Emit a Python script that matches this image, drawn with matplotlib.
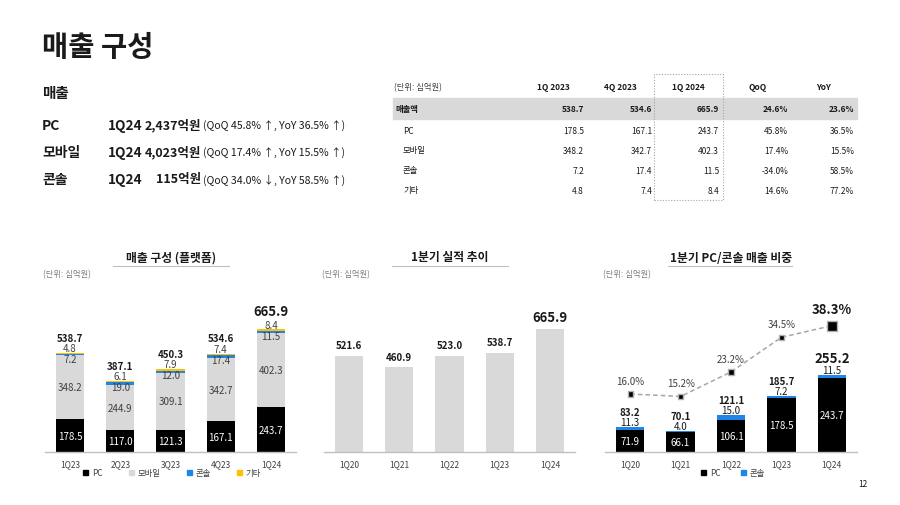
import matplotlib.pyplot as plt
import matplotlib.patches as mpatches
from matplotlib.lines import Line2D
import numpy as np

plt.rcParams['font.family'] = ['Noto Sans CJK KR', 'DejaVu Sans']

W, H = 900, 506
def fx(x): return x / W
def fy(y): return 1 - y / H

TXT      = '#1a1a1a'
TXT_MID  = '#404040'
TXT_LT   = '#7f7f7f'
LINE     = '#bfbfbf'
C_BLACK  = '#000000'
C_GRAY   = '#d9d9d9'
C_BLUE   = '#1f86e8'
C_GOLD   = '#ffc000'

# summary block
sum_labels  = ['PC', '모바일', '콘솔']
sum_amount  = ['2,437억원', '4,023억원', '115억원']
sum_change  = ['(QoQ 45.8% ↑, YoY 36.5% ↑)',
               '(QoQ 17.4% ↑, YoY 15.5% ↑)',
               '(QoQ 34.0% ↓, YoY 58.5% ↑)']

# table
tab_rows    = ['매출액', 'PC', '모바일', '콘솔', '기타']
tab_headers = ['1Q 2023', '4Q 2023', '1Q 2024', 'QoQ', 'YoY']
tab_1q23    = [538.7, 178.5, 348.2, 7.2, 4.8]
tab_4q23    = [534.6, 167.1, 342.7, 17.4, 7.4]
tab_1q24    = [665.9, 243.7, 402.3, 11.5, 8.4]
tab_qoq     = [24.6, 45.8, 17.4, -34.0, 14.6]
tab_yoy     = [23.6, 36.5, 15.5, 58.5, 77.2]

# chart 1: platform mix
quarters   = ['1Q23', '2Q23', '3Q23', '4Q23', '1Q24']
rev_pc     = [178.5, 117.0, 121.3, 167.1, 243.7]
rev_mobile = [348.2, 244.9, 309.1, 342.7, 402.3]
rev_cons   = [7.2, 19.0, 12.0, 17.4, 11.5]
rev_other  = [4.8, 6.1, 7.9, 7.4, 8.4]
rev_total  = [538.7, 387.1, 450.3, 534.6, 665.9]

# chart 2: Q1 trend
q1_years   = ['1Q20', '1Q21', '1Q22', '1Q23', '1Q24']
q1_rev     = [521.6, 460.9, 523.0, 538.7, 665.9]

# chart 3: PC/console share
q1_pc      = [71.9, 66.1, 106.1, 178.5, 243.7]
q1_cons    = [11.3, 4.0, 15.0, 7.2, 11.5]
q1_pccons  = [83.2, 70.1, 121.1, 185.7, 255.2]
q1_share   = [16.0, 15.2, 23.2, 34.5, 38.3]

fig = plt.figure(figsize=(9, 5.06), dpi=100, facecolor='white')

# ---- header + summary
fig.text(fx(42), fy(48), '매출 구성', fontsize=20.5, fontweight='bold', color=TXT,
         ha='left', va='center')
fig.text(fx(42), fy(93), '매출', fontsize=10.5, fontweight='bold', color=TXT,
         ha='left', va='center')
for i, (lab, amt, chg) in enumerate(zip(sum_labels, sum_amount, sum_change)):
    y = fy(126 + i * 27)
    fig.text(fx(42), y, lab, fontsize=10, fontweight='bold', color=TXT, va='center')
    fig.text(fx(108), y, '1Q24', fontsize=9.8, fontweight='bold', color=TXT, va='center')
    fig.text(fx(201), y, amt, fontsize=9, fontweight='bold', color=TXT,
             va='center', ha='right')
    fig.text(fx(203), y, chg, fontsize=7.6, color=TXT, va='center', ha='left')

# ---- table
fig.add_artist(mpatches.Rectangle((fx(393), fy(120)), (857 - 393) / W, 21 / H,
                                  transform=fig.transFigure, color='#d9d9d9', zorder=0))
fig.add_artist(mpatches.Rectangle((fx(654), fy(201)), (723 - 654) / W, 126 / H,
                                  transform=fig.transFigure, fill=False,
                                  edgecolor='#a6a6a6', linestyle=(0, (1, 1.5)), lw=0.8))
fig.text(fx(394), fy(88), '(단위: 십억원)', fontsize=6, color=TXT_MID, va='center')
head_x = [553, 620, 688, 758, 823]
for hx, hd in zip(head_x, tab_headers):
    fig.text(fx(hx), fy(88), hd, fontsize=6, fontweight='bold', color=TXT,
             ha='center', va='center')
val_x = [584, 652, 719, 788, 854]
row_y = [110, 131, 151, 171, 191]
for r, name in enumerate(tab_rows):
    bold = 'bold' if r == 0 else 'normal'
    y = fy(row_y[r])
    fig.text(fx(395 if r == 0 else 403), y, name, fontsize=6, fontweight=bold,
             color=TXT, va='center')
    vals = [f'{tab_1q23[r]:.1f}', f'{tab_4q23[r]:.1f}', f'{tab_1q24[r]:.1f}',
            f'{tab_qoq[r]:.1f}%', f'{tab_yoy[r]:.1f}%']
    for vx, v in zip(val_x, vals):
        fig.text(fx(vx), y, v, fontsize=6, fontweight=bold, color=TXT,
                 ha='right', va='center')


def make_ax(left, right, ymax):
    ax = fig.add_axes([fx(left), fy(453), (right - left) / W, 140 / H])
    for s in ['top', 'right', 'left']:
        ax.spines[s].set_visible(False)
    ax.spines['bottom'].set_color(LINE)
    ax.spines['bottom'].set_linewidth(1)
    ax.set_yticks([])
    ax.set_xlim(-0.5, 4.5)
    ax.set_ylim(0, ymax)
    ax.tick_params(axis='x', length=0, pad=5, labelsize=6, labelcolor=TXT_MID)
    ax.patch.set_alpha(0)
    return ax


def chart_title(cx, x0, x1, text, ux):
    fig.text(fx(cx), fy(258), text, fontsize=8.5, fontweight='bold', color=TXT,
             ha='center', va='center')
    fig.add_artist(Line2D([fx(x0), fx(x1)], [fy(267), fy(267)], color=LINE, lw=0.8))
    fig.text(fx(ux), fy(275), '(단위: 십억원)', fontsize=6, color=TXT_LT,
             ha='left', va='center')


BW = 0.56

# ---- chart 1
chart_title(171, 113, 229, '매출 구성 (플랫폼)', 43)
ax1 = make_ax(45, 296, 761)
x = np.arange(len(quarters))
pc = np.array(rev_pc); mob = np.array(rev_mobile)
con = np.array(rev_cons); oth = np.array(rev_other)
ax1.bar(x, pc, BW, color=C_BLACK)
ax1.bar(x, mob, BW, bottom=pc, color=C_GRAY)
ax1.bar(x, con, BW, bottom=pc + mob, color=C_BLUE)
ax1.bar(x, oth, BW, bottom=pc + mob + con, color=C_GOLD)
top1 = pc + mob + con + oth
ax1.set_xticks(x, quarters)
for i in range(len(x)):
    ax1.text(i, pc[i] / 2, f'{pc[i]:.1f}', color='white', fontsize=7,
             ha='center', va='center')
    ax1.text(i, pc[i] + mob[i] / 2, f'{mob[i]:.1f}', color=TXT_MID, fontsize=7,
             ha='center', va='center')
    ax1.annotate(f'{con[i]:.1f}', (i, top1[i]), xytext=(0, -4.5),
                 textcoords='offset points', ha='center', va='center',
                 fontsize=7, color=TXT_MID)
    ax1.annotate(f'{oth[i]:.1f}', (i, top1[i]), xytext=(0, 3.5),
                 textcoords='offset points', ha='center', va='center',
                 fontsize=7, color=TXT_MID)
    last = i == len(x) - 1
    ax1.annotate(f'{rev_total[i]:.1f}', (i, top1[i]),
                 xytext=(0, 13 if last else 11), textcoords='offset points',
                 ha='center', va='center', fontsize=9.5 if last else 7,
                 fontweight='bold', color=TXT)
h1 = [mpatches.Patch(color=c, label=l) for c, l in
      zip([C_BLACK, C_GRAY, C_BLUE, C_GOLD], ['PC', '모바일', '콘솔', '기타'])]
leg = ax1.legend(handles=h1, loc='center', bbox_to_anchor=(fx(172), fy(474)),
                 bbox_transform=fig.transFigure, ncol=4, frameon=False,
                 fontsize=6, handlelength=0.6, handleheight=0.6,
                 handletextpad=0.4, columnspacing=3.2)
for t in leg.get_texts():
    t.set_color(TXT_MID)

# ---- chart 2
chart_title(450, 392, 508, '1분기 실적 추이', 322)
ax2 = make_ax(324, 575, 761)
ax2.bar(x, q1_rev, BW, color=C_GRAY)
ax2.set_xticks(x, q1_years)
for i, v in enumerate(q1_rev):
    last = i == len(q1_rev) - 1
    ax2.annotate(f'{v:.1f}', (i, v), xytext=(0, 9 if last else 7.6),
                 textcoords='offset points', ha='center', va='center',
                 fontsize=9.5 if last else 7, fontweight='bold', color=TXT)

# ---- chart 3
chart_title(731, 668, 792, '1분기 PC/콘솔 매출 비중', 603)
ax3 = make_ax(605, 857, 463.6)
p3 = np.array(q1_pc); c3 = np.array(q1_cons)
ax3.bar(x, p3, BW, color=C_BLACK)
ax3.bar(x, c3, BW, bottom=p3, color=C_BLUE)
ax3.set_xticks(x, q1_years)
top3 = p3 + c3
for i in range(len(x)):
    last = i == len(x) - 1
    ax3.text(i, p3[i] / 2, f'{p3[i]:.1f}', color='white', fontsize=7,
             ha='center', va='center')
    ax3.annotate(f'{c3[i]:.1f}', (i, top3[i]), xytext=(0, 3.8),
                 textcoords='offset points', ha='center', va='center',
                 fontsize=7, color=TXT)
    ax3.annotate(f'{q1_pccons[i]:.1f}', (i, top3[i]),
                 xytext=(0, 12.3 if last else 11), textcoords='offset points',
                 ha='center', va='center', fontsize=9.5 if last else 7,
                 fontweight='bold', color=TXT)

ax3b = ax3.twinx()
ax3b.set_ylim(-2.94, 42.77)
ax3b.set_yticks([])
for s in ax3b.spines.values():
    s.set_visible(False)
ax3b.plot(x, q1_share, color='#a6a6a6', lw=1.1, linestyle=(0, (3, 2)), zorder=2)
ax3b.scatter(x, q1_share, s=[14] * 4 + [48], marker='s', color=C_BLACK,
             edgecolors='#b0b0b0', linewidths=1, zorder=3)
for i, v in enumerate(q1_share):
    last = i == len(q1_share) - 1
    ax3b.annotate(f'{v:.1f}%', (i, v), xytext=(0, 12 if last else 9.5),
                  textcoords='offset points', ha='center', va='center',
                  fontsize=9.5 if last else 7, fontweight='bold' if last else 'normal',
                  color=TXT if last else TXT_MID)
h3 = [mpatches.Patch(color=c, label=l) for c, l in
      zip([C_BLACK, C_BLUE], ['PC', '콘솔'])]
leg3 = ax3.legend(handles=h3, loc='center', bbox_to_anchor=(fx(733), fy(474)),
                  bbox_transform=fig.transFigure, ncol=2, frameon=False,
                  fontsize=6, handlelength=0.6, handleheight=0.6,
                  handletextpad=0.4, columnspacing=2.5)
for t in leg3.get_texts():
    t.set_color(TXT_MID)

fig.text(fx(863), fy(485), '12', fontsize=6, color=TXT, ha='center', va='center')

fig.savefig('out.png', dpi=100, facecolor='white')
